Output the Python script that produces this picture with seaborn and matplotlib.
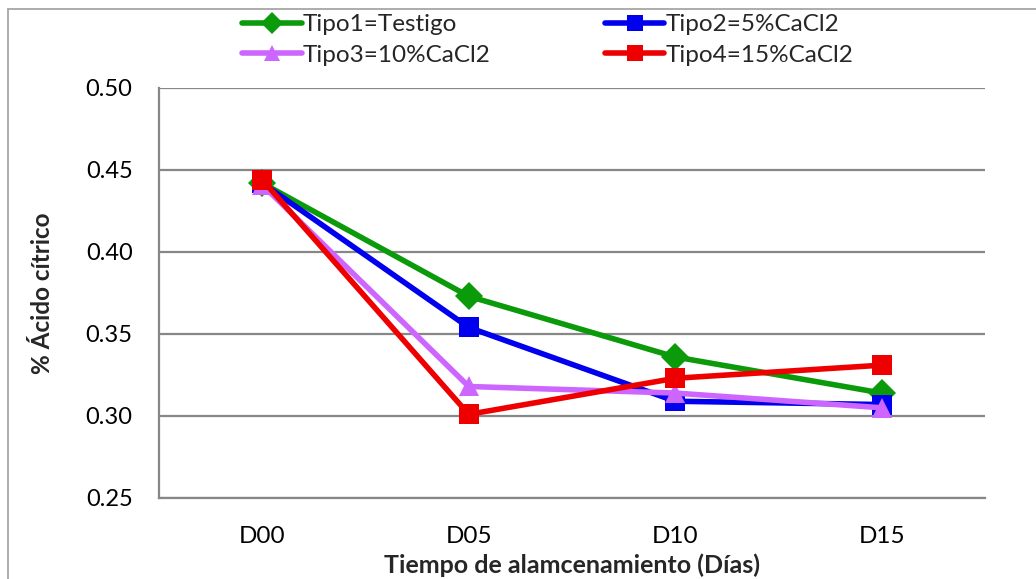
import matplotlib
matplotlib.use("Agg")
import matplotlib.pyplot as plt
from matplotlib.patches import Rectangle
from matplotlib.ticker import FixedLocator, FormatStrFormatter
import seaborn as sns
import pandas as pd

# Storage days and measured citric acid (%) per treatment
dias = ["D00", "D05", "D10", "D15"]
tipo1 = [0.442, 0.373, 0.336, 0.314]
tipo2 = [0.442, 0.354, 0.309, 0.307]
tipo3 = [0.441, 0.318, 0.314, 0.305]
tipo4 = [0.444, 0.301, 0.323, 0.331]
series_names = ["Tipo1=Testigo", "Tipo2=5%CaCl2", "Tipo3=10%CaCl2", "Tipo4=15%CaCl2"]
y_ticks = [0.25, 0.30, 0.35, 0.40, 0.45, 0.50]

colors = ["#0a9a0a", "#0000ee", "#cc66ff", "#ee0000"]
markers = ["D", "s", "^", "s"]

rows = []
for name, vals in zip(series_names, [tipo1, tipo2, tipo3, tipo4]):
    for d, v in zip(dias, vals):
        rows.append({"Dia": d, "Acido": v, "Tipo": name})
df = pd.DataFrame(rows)

sns.set_theme(style="white")
plt.rcParams["font.family"] = ["Lato", "DejaVu Sans"]

fig = plt.figure(figsize=(10.36, 5.79), dpi=100)
ax = fig.add_axes([159 / 1036, 1 - 498 / 579, (985 - 159) / 1036, (498 - 88) / 579])

# Outer chart frame (top and left edges visible)
fig.patches.append(Rectangle((8 / 1036, -0.05), 1.2, 1 - 9 / 579 + 0.05,
                             transform=fig.transFigure, fill=False,
                             edgecolor="#a6a6a6", linewidth=1.3, zorder=0))

sns.lineplot(data=df, x="Dia", y="Acido", hue="Tipo", style="Tipo",
             hue_order=series_names, style_order=series_names,
             palette=colors, markers=markers, dashes=False,
             linewidth=4.0, markersize=14, markeredgewidth=0,
             sort=False, ax=ax)

ax.set_ylim(0.25, 0.50)
ax.set_xlim(-0.5, 3.5)
ax.yaxis.set_major_locator(FixedLocator(y_ticks))
ax.yaxis.set_major_formatter(FormatStrFormatter("%.2f"))
ax.grid(axis="y", color="#878787", linewidth=1.6)
ax.set_axisbelow(True)

ax.set_xticks(range(len(dias)))
ax.set_xticklabels(dias)
ax.set_xticks([i - 0.5 for i in range(len(dias) + 1)], minor=True)
ax.tick_params(axis="x", which="major", length=0, pad=20, labelsize=17.5, colors="black")
ax.tick_params(axis="x", which="minor", length=7, width=1.3, color="#878787", direction="out")
ax.tick_params(axis="y", which="major", length=7, width=1.3, color="#878787",
               direction="out", labelsize=17, pad=12, labelcolor="black")

for side in ["top", "right"]:
    ax.spines[side].set_visible(False)
for side in ["left", "bottom"]:
    ax.spines[side].set_color("#878787")
    ax.spines[side].set_linewidth(1.6)

ax.set_xlabel("Tiempo de alamcenamiento (Días)", fontsize=18, fontweight="bold", labelpad=5)
ax.set_ylabel("% Ácido cítrico", fontsize=17.5, fontweight="bold", labelpad=23)

handles, labels = ax.get_legend_handles_labels()
for h in handles:
    h.set_markersize(11)
# fill rows first: Tipo1 | Tipo2 on top, Tipo3 | Tipo4 below
order = [0, 2, 1, 3]
ax.legend([handles[i] for i in order], [labels[i] for i in order], ncol=2, loc="upper left",
          bbox_to_anchor=(242 / 1036, 1 - 14 / 579), bbox_transform=fig.transFigure,
          frameon=False, fontsize=17.5, handlelength=2.45, handletextpad=0.05,
          columnspacing=4.7, labelspacing=0.4, borderaxespad=0, borderpad=0)

fig.savefig("out.png", dpi=100)
